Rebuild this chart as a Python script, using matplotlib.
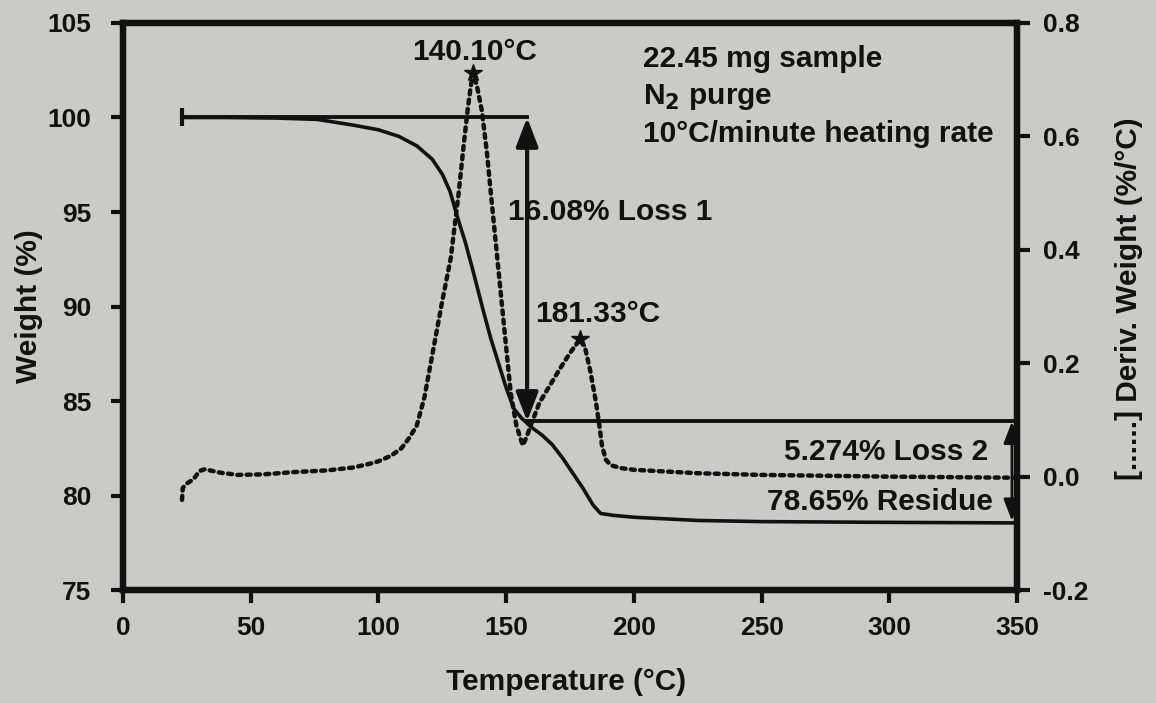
import matplotlib
matplotlib.use('Agg')
import matplotlib.pyplot as plt
from matplotlib.patches import FancyArrowPatch


#### DATA ####
# weight curve (left axis)
tempWeight = [23.1, 40, 60, 76, 90, 100, 108, 115, 121, 125, 128, 131, 134, 137,
              141, 144, 147, 150, 153, 156, 160, 164, 168, 172, 176, 180, 184,
              187, 192, 200, 225, 250, 300, 350]
weight     = [100.0, 100.0, 99.97, 99.9, 99.6, 99.35, 99.0, 98.5, 97.8, 97.0,
              96.1, 94.7, 93.4, 91.9, 89.8, 88.3, 87.0, 85.7, 84.6, 84.1, 83.6,
              83.2, 82.7, 82.0, 81.2, 80.4, 79.5, 79.05, 78.95, 78.85, 78.68,
              78.62, 78.58, 78.55]

# derivative weight curve (right axis)
tempDeriv = [23.1, 23.4, 25, 27.5, 30, 32, 38, 45, 55, 67, 80, 90, 96, 100, 105,
             109, 112, 115, 118, 121.5, 125, 128.3, 131.4, 133.5, 135, 136.2, 137,
             138.5, 140.5, 142.5, 144, 146.6, 149.2, 151.8, 154, 156.5, 158, 160,
             163, 167, 171, 175, 178.9, 181, 183, 185, 186.5, 187.5, 189, 191,
             195, 200, 225, 250, 300, 350]
deriv     = [-0.041, -0.02, -0.012, -0.005, 0.010, 0.013, 0.007, 0.003, 0.004,
             0.008, 0.011, 0.016, 0.022, 0.027, 0.037, 0.050, 0.068, 0.090, 0.14,
             0.225, 0.31, 0.385, 0.50, 0.59, 0.65, 0.69, 0.712, 0.69, 0.645, 0.57,
             0.50, 0.382, 0.264, 0.147, 0.09, 0.055, 0.07, 0.095, 0.13, 0.16,
             0.19, 0.218, 0.243, 0.225, 0.185, 0.135, 0.09, 0.055, 0.03, 0.02,
             0.015, 0.012, 0.006, 0.003, 0.0, -0.002]

peakTemps  = [137.0, 178.9]
peakDerivs = [0.712, 0.243]
peakLabels = ['140.10°C', '181.33°C']

startWeight = 100.0
afterLoss1  = 83.92
residue     = 78.65
loss1Temp   = 158.2
loss2Temp   = 348.0

xTicks          = [0, 50, 100, 150, 200, 250, 300, 350]
leftTicks       = [75, 80, 85, 90, 95, 100, 105]
rightTicks      = [-0.2, 0.0, 0.2, 0.4, 0.6, 0.8]
rightTickLabels = ['-0.2', '0.0', '0.2', '0.4', '0.6', '0.8']


#### STYLE ####
dpi     = 100
figsize = (1156/dpi, 703/dpi)
bg      = '#cacac8'
ink     = '#111111'
plt.rcParams['font.family'] = ['Liberation Sans', 'DejaVu Sans']
plt.rcParams['font.weight'] = 'bold'
plt.rcParams['axes.labelweight'] = 'bold'
textSize = 21.5
tickSize = 19

fig = plt.figure(figsize=figsize, dpi=dpi)
fig.patch.set_facecolor(bg)
ax = fig.add_axes([0.1064, 0.1607, 0.7734, 0.8066])
ax.set_facecolor(bg)
ax2 = ax.twinx()
ax2.patch.set_visible(False)

ax.set_xlim(0, 350)
ax.set_ylim(75, 105)
ax2.set_ylim(-0.2, 0.8)

# curves
ax.plot(tempWeight, weight, color=ink, lw=2.6, zorder=3)
ax.plot([tempWeight[0]], [weight[0]], marker='|', ms=13, mew=3, color=ink)
ax2.plot(tempDeriv, deriv, color=ink, lw=3.2, linestyle=(0, (0.9, 1.2)),
         dash_capstyle='round', zorder=3)
ax2.plot(peakTemps, peakDerivs, linestyle='none', marker='*', ms=13, color=ink)

# step lines
ax.plot([tempWeight[0], loss1Temp], [startWeight, startWeight], color=ink, lw=2.8)
ax.plot([loss1Temp, 350], [afterLoss1, afterLoss1], color=ink, lw=2.8)

# loss arrows
arr1 = FancyArrowPatch((loss1Temp, afterLoss1), (loss1Temp, startWeight),
                       arrowstyle='<|-|>,head_length=1.1,head_width=0.42',
                       mutation_scale=16, lw=3, color=ink, shrinkA=0, shrinkB=0, zorder=5)
ax.add_patch(arr1)
arr2 = FancyArrowPatch((loss2Temp, residue), (loss2Temp, afterLoss1),
                       arrowstyle='<|-|>,head_length=1.1,head_width=0.42',
                       mutation_scale=12, lw=2, color=ink, shrinkA=0, shrinkB=0, zorder=5)
ax.add_patch(arr2)

# annotations
ax.text(137.8, 103.47, peakLabels[0], ha='center', va='center', fontsize=textSize, color=ink)
ax.text(161.3, 89.18, peakLabels[1], ha='left', va='baseline', fontsize=textSize, color=ink)
ax.text(203.6, 102.67, '22.45 mg sample', ha='left', va='baseline', fontsize=textSize, color=ink)
ax.text(203.6, 100.71, 'N$_\\mathbf{2}$ purge', ha='left', va='baseline', fontsize=textSize, color=ink)
ax.text(203.6, 98.70, '10°C/minute heating rate', ha='left', va='baseline', fontsize=textSize, color=ink)
ax.text(150.7, 94.58, '16.08% Loss 1', ha='left', va='baseline', fontsize=textSize, color=ink, zorder=2)
ax.text(338.7, 81.88, '5.274% Loss 2', ha='right', va='baseline', fontsize=textSize, color=ink)
ax.text(340.6, 79.23, '78.65% Residue', ha='right', va='baseline', fontsize=textSize, color=ink)

# axes styling
for a in (ax, ax2):
    for s in a.spines.values():
        s.set_linewidth(4.5)
        s.set_color(ink)
ax.set_xticks(xTicks)
ax.set_yticks(leftTicks)
ax2.set_yticks(rightTicks)
ax2.set_yticklabels(rightTickLabels)
ax.tick_params(axis='x', direction='out', length=9, width=3, pad=10, labelsize=tickSize, colors=ink)
ax.tick_params(axis='y', direction='out', length=9, width=3, pad=14, labelsize=tickSize, colors=ink)
ax2.tick_params(axis='y', direction='out', length=9, width=3, pad=10, labelsize=tickSize, colors=ink)

ax.set_xlabel('Temperature (°C)', fontsize=textSize, color=ink)
ax.xaxis.set_label_coords(0.496, -0.138)
ax.set_ylabel('Weight (%)', fontsize=textSize, color=ink)
ax.yaxis.set_label_coords(-0.09, 0.5)
ax2.set_ylabel('[......] Deriv. Weight (%/°C)', fontsize=textSize, color=ink)
ax2.yaxis.set_label_coords(1.109, 0.513)

fig.savefig('out.png', dpi=dpi, facecolor=bg)
